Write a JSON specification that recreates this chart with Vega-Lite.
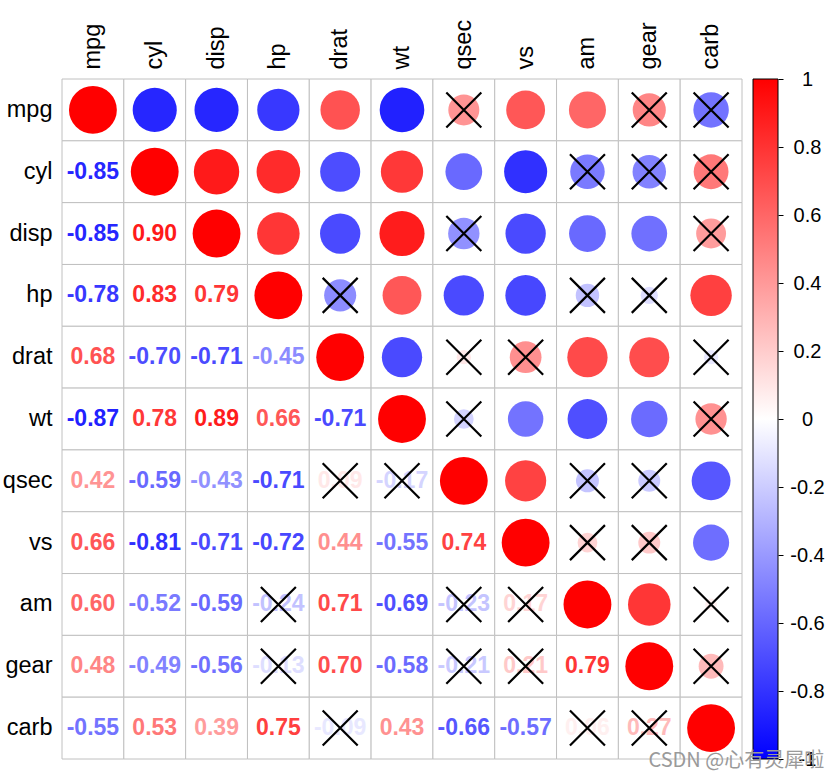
{
  "$schema": "https://vega.github.io/schema/vega-lite/v6.json",
  "background": "white",
  "padding": {"left": 2, "top": 19, "right": 5, "bottom": 5},
  "config": {
    "view": {"stroke": null},
    "font": "Liberation Sans",
    "concat": {"spacing": 9},
    "locale": {"number": {"decimal": ".", "thousands": ",", "grouping": [3], "currency": ["$", ""], "minus": "-"}}
  },
  "title": {"text": "CSDN @心有灵犀啦", "orient": "bottom", "anchor": "end", "fontSize": 20, "font": "Noto Sans CJK SC", "fontWeight": "normal", "color": "#9a9a9a", "offset": -18},
  "datasets": {
    "corr": [
      {"v":"mpg","c":"mpg","r":1,"p":"D","ns":0},{"v":"mpg","c":"cyl","r":-0.85,"p":"U","ns":0},{"v":"mpg","c":"disp","r":-0.85,"p":"U","ns":0},{"v":"mpg","c":"hp","r":-0.78,"p":"U","ns":0},{"v":"mpg","c":"drat","r":0.68,"p":"U","ns":0},{"v":"mpg","c":"wt","r":-0.87,"p":"U","ns":0},{"v":"mpg","c":"qsec","r":0.42,"p":"U","ns":1},{"v":"mpg","c":"vs","r":0.66,"p":"U","ns":0},{"v":"mpg","c":"am","r":0.60,"p":"U","ns":0},{"v":"mpg","c":"gear","r":0.48,"p":"U","ns":1},{"v":"mpg","c":"carb","r":-0.55,"p":"U","ns":1},
      {"v":"cyl","c":"mpg","r":-0.85,"p":"L","ns":0},{"v":"cyl","c":"cyl","r":1,"p":"D","ns":0},{"v":"cyl","c":"disp","r":0.90,"p":"U","ns":0},{"v":"cyl","c":"hp","r":0.83,"p":"U","ns":0},{"v":"cyl","c":"drat","r":-0.70,"p":"U","ns":0},{"v":"cyl","c":"wt","r":0.78,"p":"U","ns":0},{"v":"cyl","c":"qsec","r":-0.59,"p":"U","ns":0},{"v":"cyl","c":"vs","r":-0.81,"p":"U","ns":0},{"v":"cyl","c":"am","r":-0.52,"p":"U","ns":1},{"v":"cyl","c":"gear","r":-0.49,"p":"U","ns":1},{"v":"cyl","c":"carb","r":0.53,"p":"U","ns":1},
      {"v":"disp","c":"mpg","r":-0.85,"p":"L","ns":0},{"v":"disp","c":"cyl","r":0.90,"p":"L","ns":0},{"v":"disp","c":"disp","r":1,"p":"D","ns":0},{"v":"disp","c":"hp","r":0.79,"p":"U","ns":0},{"v":"disp","c":"drat","r":-0.71,"p":"U","ns":0},{"v":"disp","c":"wt","r":0.89,"p":"U","ns":0},{"v":"disp","c":"qsec","r":-0.43,"p":"U","ns":1},{"v":"disp","c":"vs","r":-0.71,"p":"U","ns":0},{"v":"disp","c":"am","r":-0.59,"p":"U","ns":0},{"v":"disp","c":"gear","r":-0.56,"p":"U","ns":0},{"v":"disp","c":"carb","r":0.39,"p":"U","ns":1},
      {"v":"hp","c":"mpg","r":-0.78,"p":"L","ns":0},{"v":"hp","c":"cyl","r":0.83,"p":"L","ns":0},{"v":"hp","c":"disp","r":0.79,"p":"L","ns":0},{"v":"hp","c":"hp","r":1,"p":"D","ns":0},{"v":"hp","c":"drat","r":-0.45,"p":"U","ns":1},{"v":"hp","c":"wt","r":0.66,"p":"U","ns":0},{"v":"hp","c":"qsec","r":-0.71,"p":"U","ns":0},{"v":"hp","c":"vs","r":-0.72,"p":"U","ns":0},{"v":"hp","c":"am","r":-0.24,"p":"U","ns":1},{"v":"hp","c":"gear","r":-0.13,"p":"U","ns":1},{"v":"hp","c":"carb","r":0.75,"p":"U","ns":0},
      {"v":"drat","c":"mpg","r":0.68,"p":"L","ns":0},{"v":"drat","c":"cyl","r":-0.70,"p":"L","ns":0},{"v":"drat","c":"disp","r":-0.71,"p":"L","ns":0},{"v":"drat","c":"hp","r":-0.45,"p":"L","ns":0},{"v":"drat","c":"drat","r":1,"p":"D","ns":0},{"v":"drat","c":"wt","r":-0.71,"p":"U","ns":0},{"v":"drat","c":"qsec","r":0.09,"p":"U","ns":1},{"v":"drat","c":"vs","r":0.44,"p":"U","ns":1},{"v":"drat","c":"am","r":0.71,"p":"U","ns":0},{"v":"drat","c":"gear","r":0.70,"p":"U","ns":0},{"v":"drat","c":"carb","r":-0.09,"p":"U","ns":1},
      {"v":"wt","c":"mpg","r":-0.87,"p":"L","ns":0},{"v":"wt","c":"cyl","r":0.78,"p":"L","ns":0},{"v":"wt","c":"disp","r":0.89,"p":"L","ns":0},{"v":"wt","c":"hp","r":0.66,"p":"L","ns":0},{"v":"wt","c":"drat","r":-0.71,"p":"L","ns":0},{"v":"wt","c":"wt","r":1,"p":"D","ns":0},{"v":"wt","c":"qsec","r":-0.17,"p":"U","ns":1},{"v":"wt","c":"vs","r":-0.55,"p":"U","ns":0},{"v":"wt","c":"am","r":-0.69,"p":"U","ns":0},{"v":"wt","c":"gear","r":-0.58,"p":"U","ns":0},{"v":"wt","c":"carb","r":0.43,"p":"U","ns":1},
      {"v":"qsec","c":"mpg","r":0.42,"p":"L","ns":0},{"v":"qsec","c":"cyl","r":-0.59,"p":"L","ns":0},{"v":"qsec","c":"disp","r":-0.43,"p":"L","ns":0},{"v":"qsec","c":"hp","r":-0.71,"p":"L","ns":0},{"v":"qsec","c":"drat","r":0.09,"p":"L","ns":1},{"v":"qsec","c":"wt","r":-0.17,"p":"L","ns":1},{"v":"qsec","c":"qsec","r":1,"p":"D","ns":0},{"v":"qsec","c":"vs","r":0.74,"p":"U","ns":0},{"v":"qsec","c":"am","r":-0.23,"p":"U","ns":1},{"v":"qsec","c":"gear","r":-0.21,"p":"U","ns":1},{"v":"qsec","c":"carb","r":-0.66,"p":"U","ns":0},
      {"v":"vs","c":"mpg","r":0.66,"p":"L","ns":0},{"v":"vs","c":"cyl","r":-0.81,"p":"L","ns":0},{"v":"vs","c":"disp","r":-0.71,"p":"L","ns":0},{"v":"vs","c":"hp","r":-0.72,"p":"L","ns":0},{"v":"vs","c":"drat","r":0.44,"p":"L","ns":0},{"v":"vs","c":"wt","r":-0.55,"p":"L","ns":0},{"v":"vs","c":"qsec","r":0.74,"p":"L","ns":0},{"v":"vs","c":"vs","r":1,"p":"D","ns":0},{"v":"vs","c":"am","r":0.17,"p":"U","ns":1},{"v":"vs","c":"gear","r":0.21,"p":"U","ns":1},{"v":"vs","c":"carb","r":-0.57,"p":"U","ns":0},
      {"v":"am","c":"mpg","r":0.60,"p":"L","ns":0},{"v":"am","c":"cyl","r":-0.52,"p":"L","ns":0},{"v":"am","c":"disp","r":-0.59,"p":"L","ns":0},{"v":"am","c":"hp","r":-0.24,"p":"L","ns":1},{"v":"am","c":"drat","r":0.71,"p":"L","ns":0},{"v":"am","c":"wt","r":-0.69,"p":"L","ns":0},{"v":"am","c":"qsec","r":-0.23,"p":"L","ns":1},{"v":"am","c":"vs","r":0.17,"p":"L","ns":1},{"v":"am","c":"am","r":1,"p":"D","ns":0},{"v":"am","c":"gear","r":0.79,"p":"U","ns":0},{"v":"am","c":"carb","r":0.06,"p":"U","ns":1},
      {"v":"gear","c":"mpg","r":0.48,"p":"L","ns":0},{"v":"gear","c":"cyl","r":-0.49,"p":"L","ns":0},{"v":"gear","c":"disp","r":-0.56,"p":"L","ns":0},{"v":"gear","c":"hp","r":-0.13,"p":"L","ns":1},{"v":"gear","c":"drat","r":0.70,"p":"L","ns":0},{"v":"gear","c":"wt","r":-0.58,"p":"L","ns":0},{"v":"gear","c":"qsec","r":-0.21,"p":"L","ns":1},{"v":"gear","c":"vs","r":0.21,"p":"L","ns":1},{"v":"gear","c":"am","r":0.79,"p":"L","ns":0},{"v":"gear","c":"gear","r":1,"p":"D","ns":0},{"v":"gear","c":"carb","r":0.27,"p":"U","ns":1},
      {"v":"carb","c":"mpg","r":-0.55,"p":"L","ns":0},{"v":"carb","c":"cyl","r":0.53,"p":"L","ns":0},{"v":"carb","c":"disp","r":0.39,"p":"L","ns":0},{"v":"carb","c":"hp","r":0.75,"p":"L","ns":0},{"v":"carb","c":"drat","r":-0.09,"p":"L","ns":1},{"v":"carb","c":"wt","r":0.43,"p":"L","ns":0},{"v":"carb","c":"qsec","r":-0.66,"p":"L","ns":0},{"v":"carb","c":"vs","r":-0.57,"p":"L","ns":0},{"v":"carb","c":"am","r":0.06,"p":"L","ns":1},{"v":"carb","c":"gear","r":0.27,"p":"L","ns":1},{"v":"carb","c":"carb","r":1,"p":"D","ns":0}
    ],
    "bar": [{"lo": -1, "hi": 1}]
  },
  "hconcat": [
    {
      "width": 680,
      "height": 680,
      "data": {"name": "corr"},
      "encoding": {
        "x": {"field": "c", "type": "nominal", "sort": ["mpg","cyl","disp","hp","drat","wt","qsec","vs","am","gear","carb"], "scale": {"paddingInner": 0, "paddingOuter": 0},
              "axis": {"orient": "top", "title": null, "labelAngle": -90, "labelFontSize": 23.5, "labelColor": "black", "ticks": false, "domain": false, "labelPadding": 10}},
        "y": {"field": "v", "type": "nominal", "sort": ["mpg","cyl","disp","hp","drat","wt","qsec","vs","am","gear","carb"], "scale": {"paddingInner": 0, "paddingOuter": 0},
              "axis": {"orient": "left", "title": null, "labelFontSize": 23.5, "labelColor": "black", "ticks": false, "domain": false, "labelPadding": 10}}
      },
      "layer": [
        {"mark": {"type": "rect", "fill": "white", "stroke": "#c0c0c0", "strokeWidth": 1}},
        {"transform": [{"filter": "datum.p != 'L'"}],
         "mark": {"type": "point", "shape": "circle", "filled": true, "opacity": 1},
         "encoding": {
           "size": {"field": "r", "type": "quantitative", "scale": {"domain": [-1, 0, 1], "range": [2290, 0, 2290]}, "legend": null},
           "color": {"field": "r", "type": "quantitative", "scale": {"domain": [-1, 0, 1], "range": ["#0000FF", "#FFFFFF", "#FF0000"], "interpolate": "rgb"}, "legend": null}
         }},
        {"transform": [{"filter": "datum.p == 'L'"}],
         "mark": {"type": "text", "fontSize": 23, "fontWeight": "bold", "baseline": "middle", "align": "center"},
         "encoding": {
           "text": {"field": "r", "type": "quantitative", "format": ".2f"},
           "color": {"field": "r", "type": "quantitative", "scale": {"domain": [-1, 0, 1], "range": ["#0000FF", "#FFFFFF", "#FF0000"], "interpolate": "rgb"}, "legend": null}
         }},
        {"transform": [{"filter": "datum.ns == 1"}],
         "mark": {"type": "point", "shape": "M-1,-1L1,1M-1,1L1,-1", "filled": false, "color": "black", "stroke": "black", "strokeWidth": 2.2, "size": 1225, "opacity": 1}}
      ]
    },
    {
      "width": 25,
      "height": 680,
      "data": {"name": "bar"},
      "mark": {"type": "rect", "stroke": "black", "strokeWidth": 1,
               "fill": {"gradient": "linear", "x1": 0, "y1": 1, "x2": 0, "y2": 0,
                        "stops": [{"offset": 0, "color": "#0000FF"}, {"offset": 0.5, "color": "#FFFFFF"}, {"offset": 1, "color": "#FF0000"}]}},
      "encoding": {
        "y": {"field": "lo", "type": "quantitative", "scale": {"domain": [-1, 1], "nice": false, "zero": false},
              "axis": {"orient": "right", "title": null, "values": [-1, -0.8, -0.6, -0.4, -0.2, 0, 0.2, 0.4, 0.6, 0.8, 1], "format": ".1~f",
                       "labelFontSize": 20, "labelColor": "black", "labelAlign": "center", "labelBaseline": "middle", "labelPadding": 24,
                       "tickSize": 5, "tickColor": "black", "tickWidth": 1, "domain": false, "grid": false, "labelFlush": false, "labelOverlap": false, "labelBound": false}},
        "y2": {"field": "hi"}
      }
    }
  ]
}
